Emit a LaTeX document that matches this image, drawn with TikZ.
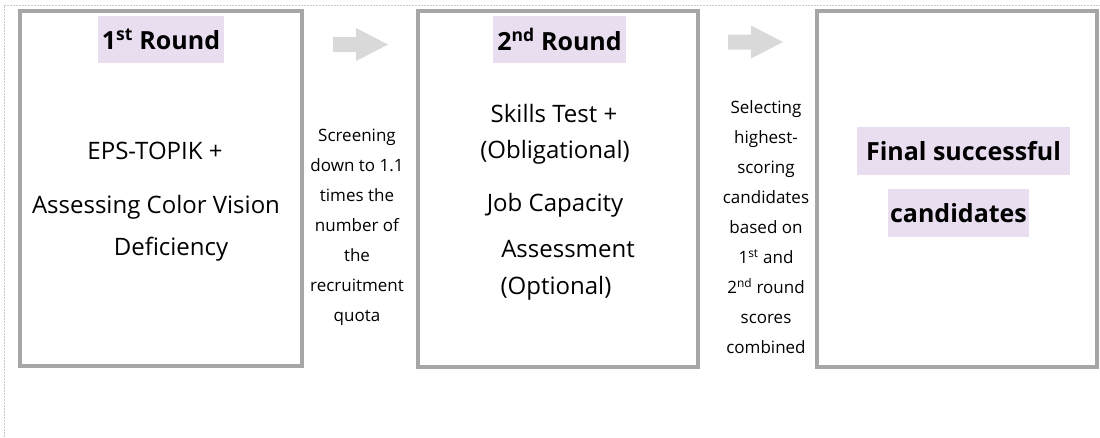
\documentclass[tikz,border=0pt]{standalone}
\usepackage{fontspec}
\setmainfont{Open Sans}
\definecolor{boxgray}{HTML}{A6A6A6}
\definecolor{arrowgray}{HTML}{D9D9D9}
\definecolor{hilite}{HTML}{E8DEEF}
\definecolor{framegray}{HTML}{C8C8C8}
\tikzset{
  stagebox/.style = {draw = boxgray, line width = 3.5pt},
  hl/.style = {fill = hilite, inner sep = 0pt, font = \fontsize{25}{30}\selectfont\bfseries},
  body/.style = {inner sep = 0pt, anchor = base, font = \fontsize{24}{28}\selectfont},
  note/.style = {inner sep = 0pt, align = center, font = \fontsize{17}{30}\selectfont},
  blockarrow/.style = {fill = arrowgray}
}
\begin{document}
\begin{tikzpicture}[x = 1pt, y = -1pt]
\useasboundingbox (0,0) rectangle (1100,437);
\draw[framegray, line width = 1pt, dash pattern = on 2pt off 1pt] (4,437) -- (4,5) -- (1100,5);
\draw[stagebox] (20,11) rectangle (302,366);
\draw[stagebox] (418,11) rectangle (698,367);
\draw[stagebox] (817,11) rectangle (1097,367);
\fill[blockarrow] (333,37) -- (356,37) -- (356,28) -- (388,44.5) -- (356,61) -- (356,52) -- (333,52) -- cycle;
\begin{scope} [shift = {(395,-2.5)}]
\fill[blockarrow] (333,37) -- (356,37) -- (356,28) -- (388,44.5) -- (356,61) -- (356,52) -- (333,52) -- cycle;
\end{scope}
\node[hl, minimum width = 126pt, minimum height = 47pt] (round1) at (161,39.5) {1\textsuperscript{st} Round};
\node[hl, minimum width = 133pt, minimum height = 47pt] (round2) at (559.5,39.5) {2\textsuperscript{nd} Round};
\node[hl, minimum width = 213pt, minimum height = 48pt] (final1) at (963.5,151) {Final successful};
\node[hl, minimum width = 141pt, minimum height = 48pt] (final2) at (958.5,213) {candidates};
\node[body] (eps) at (155,159) {EPS-TOPIK +};
\node[body] (acv) at (156,213) {Assessing Color Vision};
\node[body] (cvd) at (171,255) {Deficiency};
\node[body] (skills) at (554,122) {Skills Test +};
\node[body] (oblig) at (555,158) {(Obligational)};
\node[body] (jca) at (555,211) {Job Capacity};
\node[body] (assess) at (568,257) {Assessment};
\node[body] (optional) at (556,294) {(Optional)};
\node[note] (screen) at (357,227) {Screening\\down to 1.1\\times the\\number of\\the\\recruitment\\quota};
\node[note] (select) at (766,227) {Selecting\\highest-\\scoring\\candidates\\based on\\1\textsuperscript{st} and\\2\textsuperscript{nd} round\\scores\\combined};
\end{tikzpicture}
\end{document}
